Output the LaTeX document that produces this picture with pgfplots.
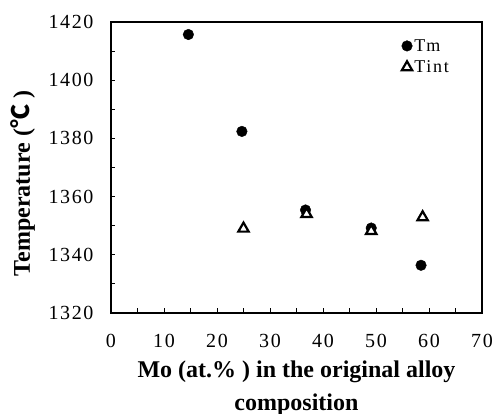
\documentclass[border=0pt]{standalone}
\usepackage{fontspec}
\setmainfont{Liberation Serif}
\newfontfamily\tickfont[LetterSpace=8]{Liberation Serif}
\newfontfamily\legfont[LetterSpace=10]{Liberation Serif}
\newfontfamily\cjk{Noto Sans CJK SC}
\usepackage{pgfplots}
\pgfplotsset{compat=1.18}

\begin{document}
\begin{tikzpicture}
\path[use as bounding box] (-111pt,-101pt) rectangle (382pt,313pt);
\begin{axis}[
  scale only axis, width=371pt, height=291pt,
  xmin=0, xmax=70, ymin=1320, ymax=1420,
  xtick={0,10,...,70}, ytick={1320,1340,...,1420},
  minor x tick num=1, minor y tick num=1,
  tick pos=left, tick align=inside,
  major tick length=4.5pt, minor tick length=4.5pt,
  axis line style={line width=1.2pt}, tick style={line width=0.8pt,black},
  /pgf/number format/assume math mode=true,
  /pgf/number format/1000 sep={},
  tick label style={font=\tickfont\fontsize{20}{23}\selectfont},
  xticklabel style={yshift=-18pt},
  yticklabel style={xshift=-14pt},
  xlabel={Mo (at.\% ) in the original alloy\\[7pt] composition},
  xlabel style={font=\fontsize{24}{26}\selectfont\bfseries, align=center,
    at={(axis description cs:0.5,0)}, anchor=north, yshift=-44pt},
  ylabel={Temperature ({\cjk ℃} )},
  ylabel style={font=\fontsize{24}{26}\selectfont\bfseries,
    at={(axis description cs:-0.237,0.445)}, anchor=center},
  legend style={draw=none, fill=none, at={(rel axis cs:0.775,0.955)},
    anchor=north west, font=\legfont\fontsize{18}{21}\selectfont, row sep=4pt,
    cells={anchor=west}},
  legend image code/.code={\draw[#1] plot coordinates {(0pt,0pt)};},
]
\addplot[only marks, mark=*, mark size=5.3pt, black] coordinates {
  (14.6,1415.7) (24.7,1382.4) (36.7,1355.4) (49.1,1349.2) (58.5,1336.4)};
\addlegendentry{T\kern1pt m}
\addplot[only marks, mark=triangle*, mark size=6pt, black, line width=2.2pt,
  mark options={fill=white, line width=2.2pt}] coordinates {
  (25.0,1349.0) (36.9,1354.0) (49.1,1348.2) (58.8,1352.9)};
\addlegendentry{T\kern1pt int}
\end{axis}
\end{tikzpicture}
\end{document}
